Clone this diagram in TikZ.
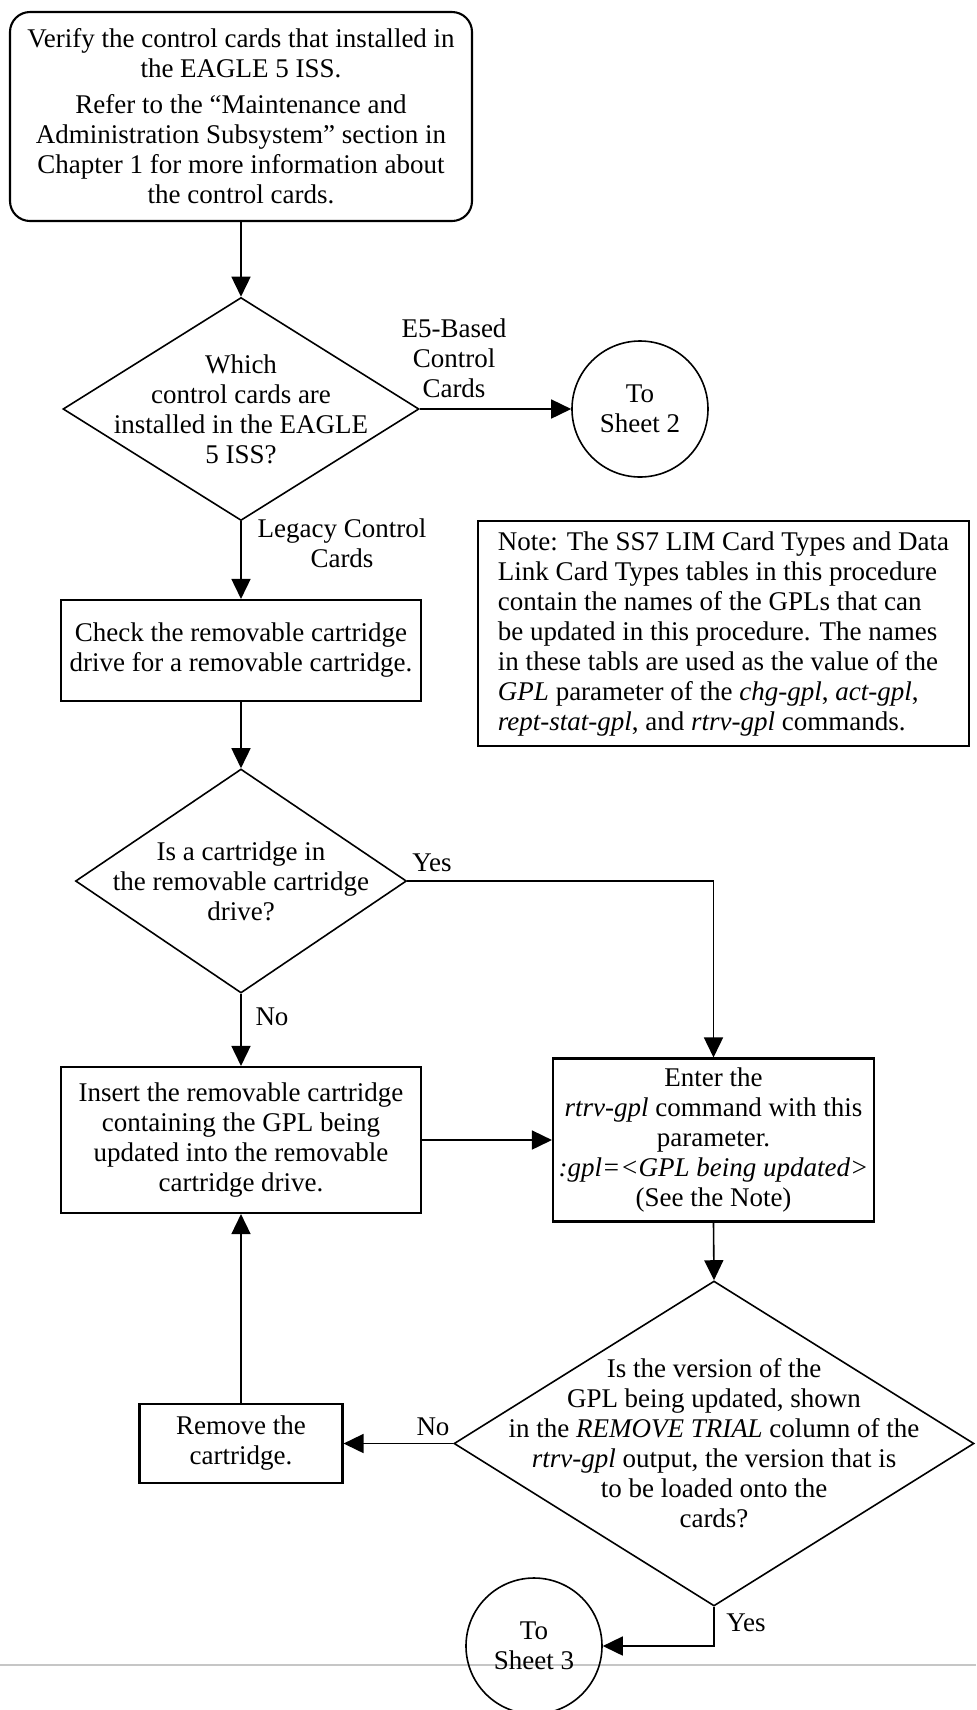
\documentclass[tikz,border=0pt]{standalone}
\usepackage{fontspec}
\setmainfont{Liberation Serif}
\usetikzlibrary{arrows.meta,shapes.geometric}
\begin{document}
\begin{tikzpicture}[x=0.5pt,y=-0.5pt,
  every node/.style={font=\fontsize{13.5}{15}\selectfont},
  procbox/.style={draw, line width=1.05pt, rectangle, inner sep=1pt, align=center},
  decision/.style={draw, line width=0.8pt, diamond, inner sep=0pt},
  dtext/.style={align=center, inner sep=0pt},
  conn/.style={circle, draw, line width=0.8pt, inner sep=0pt, minimum size=68pt, align=center},
  lbl/.style={align=center, inner sep=0pt},
  arr/.style={line width=0.8pt, -{Triangle[length=10pt,width=9.5pt]}}]
\useasboundingbox (0,0) rectangle (976,1710);
\clip (0,0) rectangle (976,1710);
\draw[gray!45, line width=0.8pt] (0,1665) -- (976,1665);

\node[procbox, rounded corners=10pt, minimum width=231pt, minimum height=104.5pt] (top) at (241,116.5)
 {Verify the control cards that installed in\\the EAGLE 5 ISS.\\[3pt]Refer to the “Maintenance and\\Administration Subsystem” section in\\Chapter 1 for more information about\\the control cards.};

\node[decision, minimum width=178pt, minimum height=111.5pt] (d1) at (241,409) {};
\node[dtext] (d1t) at (d1) {Which\\control cards are\\installed in the EAGLE\\5 ISS?};

\node[conn] (s2) at (640,409) {To\\Sheet 2};

\node[procbox, minimum width=180pt, minimum height=50.5pt] (check) at (241,650.5)
 {Check the removable cartridge\\drive for a removable cartridge.};

\node[procbox, minimum width=245.5pt, minimum height=112.5pt, align=left] (note) at (723.5,633.5)
 {Note: The SS7 LIM Card Types and Data\\Link Card Types tables in this procedure\\contain the names of the GPLs that can\\be updated in this procedure. The names\\in these tabls are used as the value of the\\\textit{GPL} parameter of the \textit{chg-gpl}, \textit{act-gpl},\\\textit{rept-stat-gpl}, and \textit{rtrv-gpl} commands.};

\node[decision, minimum width=165.5pt, minimum height=112pt] (d2) at (241,881) {};
\node[dtext] (d2t) at (d2) {Is a cartridge in\\the removable cartridge\\drive?};

\node[procbox, minimum width=180pt, minimum height=73pt] (insert) at (241,1140)
 {Insert the removable cartridge\\containing the GPL being\\updated into the removable\\cartridge drive.};

\node[procbox, minimum width=160.5pt, minimum height=81.5pt] (enter) at (713.5,1140)
 {Enter the\\\textit{rtrv-gpl} command with this\\parameter.\\\textit{:gpl=<GPL being updated>}\\(See the Note)};

\node[decision, minimum width=260pt, minimum height=162.5pt] (d3) at (714,1443.5) {};
\node[dtext] (d3t) at (d3) {Is the version of the\\GPL being updated, shown\\in the \textit{REMOVE TRIAL} column of the\\\textit{rtrv-gpl} output, the version that is\\to be loaded onto the\\cards?};

\node[procbox, minimum width=101.5pt, minimum height=39.5pt] (remove) at (241,1443.5) {Remove the\\cartridge.};

\node[conn] (s3) at (534,1646) {To\\Sheet 3};

\draw[arr] (top.south) -- (d1.north);
\draw[arr] (d1.east) -- (s2.west);
\draw[arr] (d1.south) -- (check.north);
\draw[arr] (check.south) -- (d2.north);
\draw[arr] (d2.east) -| (enter.north);
\draw[arr] (d2.south) -- (insert.north);
\draw[arr] (insert.east) -- (enter.west);
\draw[arr] (enter.south) -- (d3.north);
\draw[arr] (d3.west) -- (remove.east);
\draw[arr] (remove.north) -- (insert.south);
\draw[arr] (d3.south) |- (s3.east);

\node[lbl] (e5lbl) at (454,358) {E5-Based\\Control\\Cards};
\node[lbl] (legacylbl) at (342,543) {Legacy Control\\Cards};
\node[lbl] (yes1) at (432,863) {Yes};
\node[lbl] (no1) at (272,1017) {No};
\node[lbl] (no2) at (433,1427) {No};
\node[lbl] (yes2) at (746,1623) {Yes};
\end{tikzpicture}
\end{document}
